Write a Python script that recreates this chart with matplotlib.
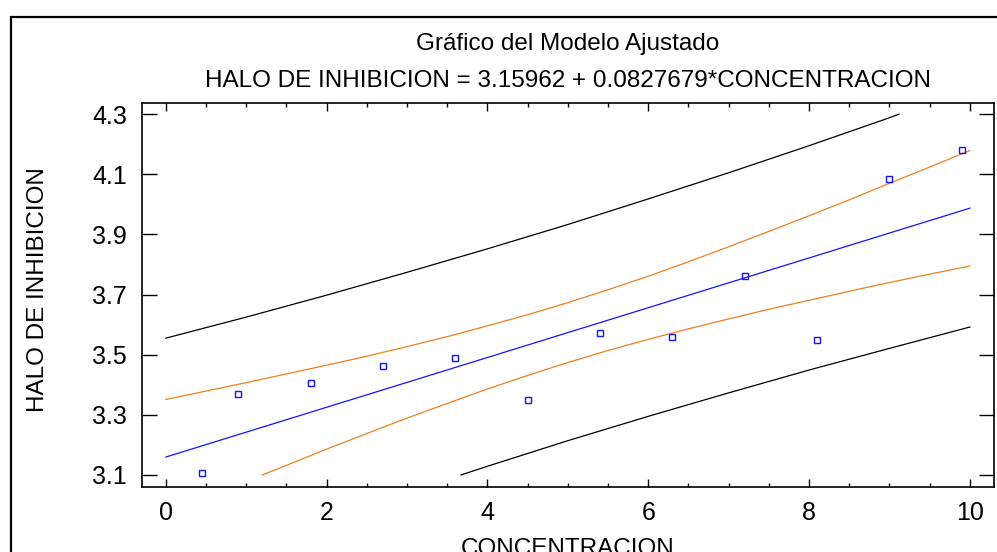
import matplotlib
matplotlib.use('Agg')
import numpy as np
import matplotlib.pyplot as plt
from matplotlib.patches import Rectangle
from matplotlib.ticker import MultipleLocator

plt.rcParams['font.family'] = ['Liberation Sans', 'DejaVu Sans']

# observed points
concentracion = [0.45, 0.9, 1.8, 2.7, 3.6, 4.5, 5.4, 6.3, 7.2, 8.1, 9.0, 9.9]
halo = [3.108, 3.370, 3.407, 3.463, 3.490, 3.350, 3.571, 3.560, 3.762, 3.548, 4.083, 4.180]

# fitted line
fit_x = [0, 10]
fit_y = [3.1596, 3.9873]

# confidence limits (orange)
conf_up_x = [0, 0.5, 1, 1.5, 2, 2.5, 3, 3.5, 4, 4.5, 5, 5.5, 6, 6.5, 7, 7.5, 8, 8.5, 9, 9.5, 10]
conf_up_y = [3.351, 3.379, 3.407, 3.436, 3.465, 3.495, 3.527, 3.560, 3.596, 3.633, 3.673,
             3.716, 3.761, 3.809, 3.859, 3.910, 3.962, 4.015, 4.070, 4.124, 4.179]
conf_lo_x = [1.2, 1.5, 2, 2.5, 3, 3.5, 4, 4.5, 5, 5.5, 6, 6.5, 7, 7.5, 8, 8.5, 9, 9.5, 10]
conf_lo_y = [3.100, 3.132, 3.186, 3.238, 3.289, 3.338, 3.386, 3.431, 3.474, 3.514, 3.551,
             3.586, 3.619, 3.651, 3.681, 3.711, 3.740, 3.768, 3.795]

# prediction limits (black)
pred_up_x = [0, 1, 2, 3, 4, 5, 6, 7, 8, 9, 9.12]
pred_up_y = [3.555, 3.625, 3.698, 3.774, 3.852, 3.933, 4.018, 4.105, 4.195, 4.288, 4.300]
pred_lo_x = [3.67, 4, 5, 6, 7, 8, 9, 10]
pred_lo_y = [3.100, 3.129, 3.214, 3.295, 3.373, 3.449, 3.521, 3.592]

W, H = 997, 552
fig = plt.figure(figsize=(W / 100, H / 100), dpi=100)
ax = fig.add_axes([141.7 / W, 1 - 486.7 / H, (994 - 141.7) / W, (486.7 - 102.7) / H])

orange = '#EE8020'
ax.plot(pred_up_x, pred_up_y, color='black', lw=0.9)
ax.plot(pred_lo_x, pred_lo_y, color='black', lw=0.9)
ax.plot(conf_up_x, conf_up_y, color=orange, lw=0.9)
ax.plot(conf_lo_x, conf_lo_y, color=orange, lw=0.9)
ax.plot(fit_x, fit_y, color='#1414FF', lw=0.9)
ax.plot(concentracion, halo, 's', ms=4.2, mfc='none', mec='#1414FF', mew=1.0, ls='none')

ax.set_xlim(-0.3, 10.3)
ax.set_ylim(3.061, 4.338)
ax.xaxis.set_major_locator(MultipleLocator(2))
ax.xaxis.set_minor_locator(MultipleLocator(0.5))
ax.set_yticks([3.1, 3.3, 3.5, 3.7, 3.9, 4.1, 4.3])
ax.set_yticklabels(['3.1', '3.3', '3.5', '3.7', '3.9', '4.1', '4.3'])

ax.tick_params(axis='x', which='major', direction='in', top=True, length=5.5, width=1.0,
               labelsize=18, pad=10.5)
ax.tick_params(axis='x', which='minor', direction='in', top=True, length=3, width=1.0)
ax.tick_params(axis='y', which='major', direction='in', right=True, length=11, width=1.0,
               labelsize=18, pad=10.5)
for s in ax.spines.values():
    s.set_linewidth(1.2)

# titles and axis labels
cx = (141.7 + 994) / 2 / W
fig.text(cx, 1 - 50 / H, 'Gráfico del Modelo Ajustado', ha='center', va='baseline', fontsize=17.5)
fig.text(cx, 1 - 87.3 / H, 'HALO DE INHIBICION = 3.15962 + 0.0827679*CONCENTRACION',
         ha='center', va='baseline', fontsize=17.5)
fig.text(cx, 1 - 555 / H, 'CONCENTRACION', ha='center', va='baseline', fontsize=17.5)
fig.text(38 / W, 1 - 290 / H, 'HALO DE INHIBICION', rotation=90, ha='center', va='center',
         fontsize=17.5)

# outer frame, cut by the image edge on the right and bottom
fig.patches.append(Rectangle((11 / W, -0.2), 1.2, 1.2 - 17 / H, transform=fig.transFigure,
                             fill=False, lw=1.6, ec='black', clip_on=False))

fig.savefig('out.png', dpi=100)
